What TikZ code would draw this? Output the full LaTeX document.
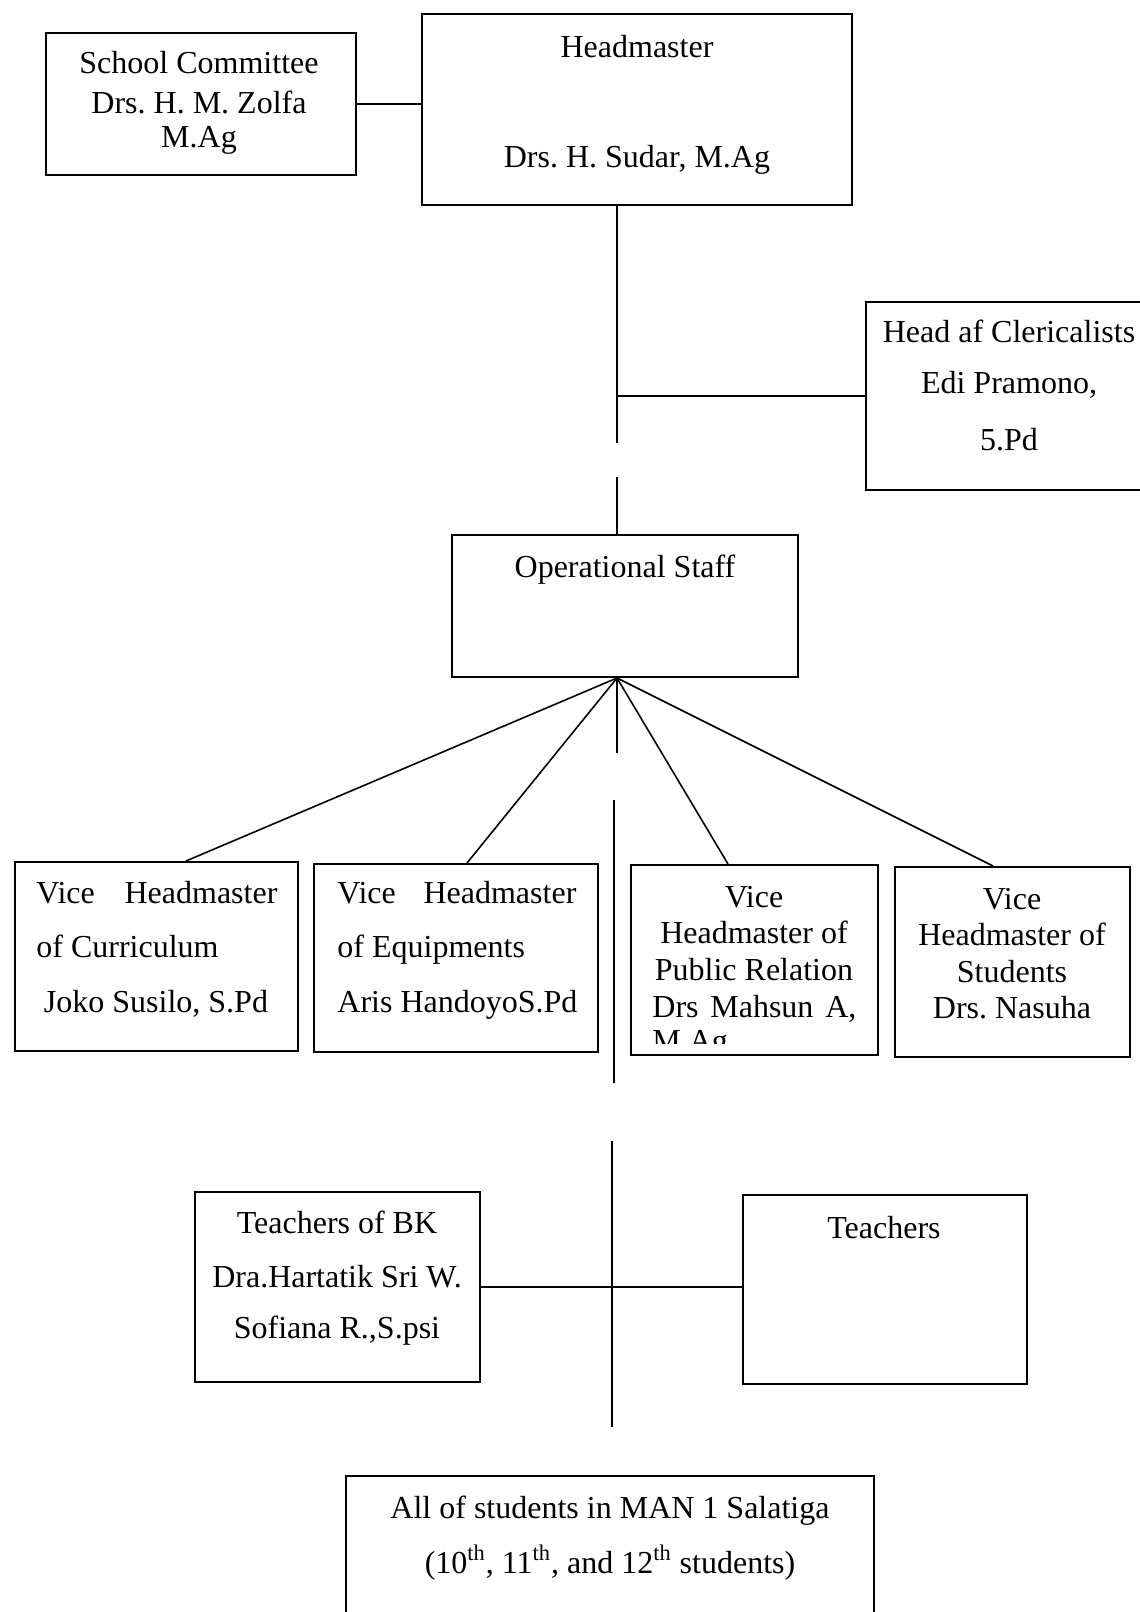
\documentclass[tikz,border=0pt]{standalone}
\usepackage{fontspec}
\setmainfont{Liberation Serif}
\begin{document}
\frenchspacing
\begin{tikzpicture}[x=0.5pt,y=-0.5pt,
  box/.style={draw, line width=1pt, inner sep=0pt, rectangle},
  txt/.style={inner sep=0pt, anchor=base, font=\fontsize{16pt}{18pt}\selectfont},
  link/.style={line width=1pt},
  fanline/.style={line width=0.8pt}]
\useasboundingbox (0,0) rectangle (1140,1612);
% boxes
\node[box, minimum width=155pt, minimum height=71pt] (sc) at (201,104) {};
\node[box, minimum width=215pt, minimum height=95.5pt] (hm) at (637,109.5) {};
\node[box, minimum width=143pt, minimum height=94pt] (cl) at (1009,396) {};
\node[box, minimum width=173pt, minimum height=71pt] (op) at (625,606) {};
\node[box, minimum width=141.5pt, minimum height=94.5pt] (cur) at (156.5,956.5) {};
\node[box, minimum width=142pt, minimum height=94pt] (eqp) at (456,958) {};
\node[box, minimum width=123.5pt, minimum height=95pt] (pr) at (754.5,960) {};
\node[box, minimum width=117.5pt, minimum height=95pt] (stu) at (1012.5,962) {};
\node[box, minimum width=142.5pt, minimum height=95pt] (bk) at (337.5,1287) {};
\node[box, minimum width=142pt, minimum height=94.5pt] (te) at (885,1289.5) {};
\node[box, minimum width=264pt, minimum height=82pt] (all) at (610,1558) {};
% texts
\node[txt] (sc1) at (199,73) {School Committee};
\node[txt] (sc2) at (199,113) {Drs. H. M. Zolfa};
\node[txt] (sc3) at (199,147) {M.Ag};
\node[txt] (hm1) at (637,57) {Headmaster};
\node[txt] (hm2) at (637,167) {Drs. H. Sudar, M.Ag};
\node[txt] (cl1) at (1009,342) {Head af Clericalists};
\node[txt] (cl2) at (1009,393) {Edi Pramono,};
\node[txt] (cl3) at (1009,450) {5.Pd};
\node[txt] (op1) at (625,577) {Operational Staff};
\node[txt, anchor=base west] (cu1) at (36,903) {\makebox[120.5pt][s]{Vice Headmaster}};
\node[txt, anchor=base west] (cu2) at (36,957) {of Curriculum};
\node[txt] (cu3) at (156,1012) {Joko Susilo, S.Pd};
\node[txt, anchor=base west] (eq1) at (337,903) {\makebox[119.5pt][s]{Vice Headmaster}};
\node[txt, anchor=base west] (eq2) at (337,957) {of Equipments};
\node[txt, anchor=base west] (eq3) at (337,1012) {Aris HandoyoS.Pd};
\node[txt] (pr1) at (754,907) {Vice};
\node[txt] (pr2) at (754,943) {Headmaster of};
\node[txt] (pr3) at (754,980) {Public Relation};
\node[txt, anchor=base west] (pr4) at (652,1017) {\makebox[102pt][s]{Drs Mahsun A,}};
\begin{scope}
\clip (631,1000) rectangle (878,1043);
\node[txt, anchor=base west] (pr5) at (652,1051) {M.Ag};
\end{scope}
\node[txt] (st1) at (1012,909) {Vice};
\node[txt] (st2) at (1012,945) {Headmaster of};
\node[txt] (st3) at (1012,982) {Students};
\node[txt] (st4) at (1012,1018) {Drs. Nasuha};
\node[txt] (bk1) at (337,1233) {Teachers of BK};
\node[txt] (bk2) at (337,1287) {Dra.Hartatik Sri W.};
\node[txt] (bk3) at (337,1338) {Sofiana R.,S.psi};
\node[txt] (te1) at (884,1238) {Teachers};
\node[txt] (al1) at (610,1518) {All of students in MAN 1 Salatiga};
\node[txt] (al2) at (610,1573) {(10\textsuperscript{th}, 11\textsuperscript{th}, and 12\textsuperscript{th} students)};
% connectors
\coordinate (spU) at (617,0);
\coordinate (g1) at (617,443);
\coordinate (g2) at (617,477);
\draw[link] (hm.south -| spU) -- (g1);
\draw[link] (g2) -- (op.north -| spU);
\draw[link] (cl.west -| spU) -- (cl.west);
\draw[link] (sc.east) -- (sc.east -| hm.west);
\coordinate (fan) at (op.south -| spU);
\draw[fanline] (fan) -- (186,0 |- cur.north);
\draw[fanline] (fan) -- (467,0 |- eqp.north);
\draw[fanline] (fan) -- (728,0 |- pr.north);
\draw[fanline] (fan) -- (993,0 |- stu.north);
\coordinate (g3) at (617,753);
\coordinate (g4) at (614,800);
\coordinate (g5) at (614,1083);
\coordinate (g6) at (612,1141);
\coordinate (g7) at (612,1427);
\draw[link] (fan) -- (g3);
\draw[link] (g4) -- (g5);
\draw[link] (g6) -- (g7);
\draw[link] (bk.east) -- (bk.east -| te.west);
\end{tikzpicture}
\end{document}
